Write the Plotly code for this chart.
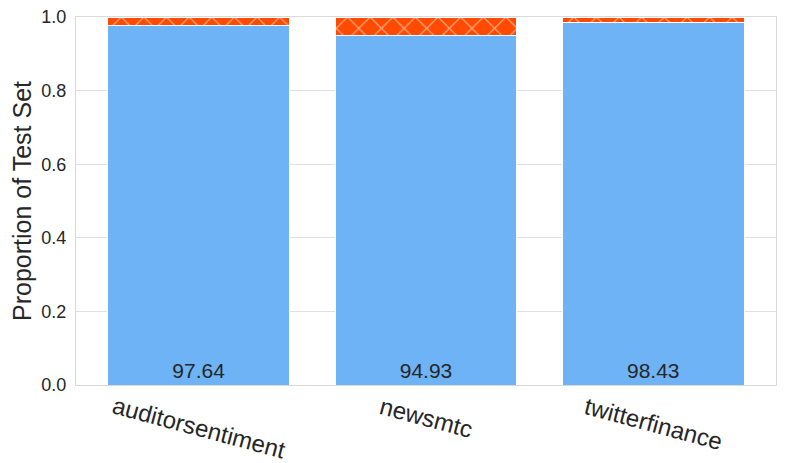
import plotly.graph_objects as go

categories = ["auditorsentiment", "newsmtc", "twitterfinance"]
correct = [0.9764, 0.9493, 0.9843]
incorrect = [1 - v for v in correct]
labels = ["97.64", "94.93", "98.43"]

FONT = "Liberation Sans, Arial, sans-serif"

fig = go.Figure()
fig.add_trace(go.Bar(
    x=categories, y=correct, text=labels, textposition="inside",
    insidetextanchor="start", textangle=0,
    textfont=dict(size=21, color="#262626", family=FONT),
    marker=dict(color="#6EB3F5", line=dict(color="white", width=1)),
    width=0.8, showlegend=False,
))
fig.add_trace(go.Bar(
    x=categories, y=incorrect,
    marker=dict(color="#FF4A00", line=dict(color="white", width=1),
                pattern=dict(shape="x", fgcolor="white", bgcolor="#FF4A00", size=16, solidity=0.15)),
    width=0.8, showlegend=False, hoverinfo="skip",
))
for c in categories:
    fig.add_annotation(x=c, xref="x", y=-0.012, yref="paper", text=c, textangle=15,
                       showarrow=False, xanchor="center", yanchor="top",
                       font=dict(size=24, color="#262626", family=FONT))
# page body has an 8px margin: compensate so the plot area lands at x 76-776, y 17-385
fig.update_layout(
    barmode="stack", width=785, height=455,
    margin=dict(l=68, r=17, t=9, b=78, autoexpand=False),
    paper_bgcolor="white", plot_bgcolor="white",
    font=dict(family=FONT, size=18, color="#262626"),
)
fig.update_xaxes(range=[-0.54, 2.54], showticklabels=False, automargin=False,
                 showline=True, linecolor="#d9d9d9", mirror=True, ticks="", showgrid=False)
fig.update_yaxes(range=[0, 1.0], dtick=0.2, tickformat=".1f", showgrid=True, gridcolor="#e0e0e0",
                 automargin=False, tickfont=dict(size=18), ticklabelstandoff=5,
                 ticklabeloverflow="allow",
                 showline=True, linecolor="#d9d9d9", mirror=True, zeroline=False, ticks="",
                 title=dict(text="Proportion of Test Set", font=dict(size=25), standoff=3))
fig.write_html("out.html")
